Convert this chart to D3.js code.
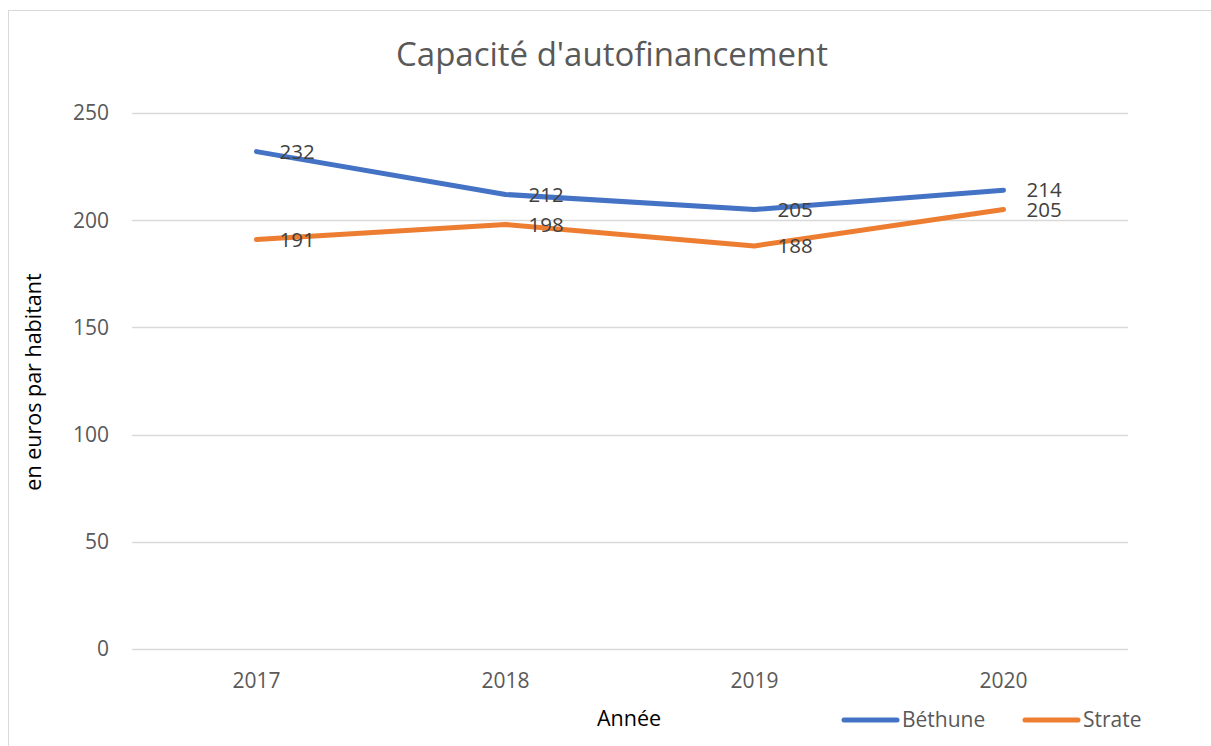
<!DOCTYPE html>
<html>
<head>
<meta charset="utf-8">
<script src="https://cdn.jsdelivr.net/npm/d3@7"></script>
<style>
  html, body { margin: 0; padding: 0; background: #fff; }
  svg { display: block; font-family: "Open Sans", "Noto Sans", sans-serif; }
</style>
</head>
<body>
<div id="chart"></div>
<script>
const years = ["2017", "2018", "2019", "2020"];
const bethune = [232, 212, 205, 214];
const strate = [191, 198, 188, 205];
const yTicks = [0, 50, 100, 150, 200, 250];

const series = [
  {name: "Béthune", values: bethune, color: "#4472C4"},
  {name: "Strate", values: strate, color: "#ED7D31"}
];

const width = 1211, height = 746;
const plot = {left: 132, right: 1128, top: 113, bottom: 649};

const svg = d3.select("#chart").append("svg")
    .attr("width", width)
    .attr("height", height);

// chart frame
svg.append("rect")
    .attr("x", 8.5).attr("y", 10.5)
    .attr("width", 1203).attr("height", 760)
    .attr("fill", "#fff")
    .attr("stroke", "#d9d9d9")
    .attr("stroke-width", 1);

const x = d3.scalePoint()
    .domain(years)
    .range([plot.left, plot.right])
    .padding(0.5);

const y = d3.scaleLinear()
    .domain([0, 250])
    .range([plot.bottom, plot.top]);

// gridlines
svg.append("g")
  .selectAll("line")
  .data(yTicks)
  .join("line")
    .attr("x1", plot.left)
    .attr("x2", plot.right)
    .attr("y1", d => Math.round(y(d)) + 0.5)
    .attr("y2", d => Math.round(y(d)) + 0.5)
    .attr("stroke", "#d9d9d9")
    .attr("stroke-width", 1.5);

// y tick labels
svg.append("g")
  .selectAll("text")
  .data(yTicks)
  .join("text")
    .attr("x", 109)
    .attr("y", d => y(d))
    .attr("dy", "0.35em")
    .attr("text-anchor", "end")
    .attr("fill", "#595959")
    .style("font-size", "21px")
    .text(d => d);

// x tick labels
svg.append("g")
  .selectAll("text")
  .data(years)
  .join("text")
    .attr("x", d => x(d))
    .attr("y", 681)
    .attr("dy", "0.35em")
    .attr("text-anchor", "middle")
    .attr("fill", "#595959")
    .style("font-size", "21px")
    .text(d => d);

// title
svg.append("text")
    .attr("x", 612)
    .attr("y", 54)
    .attr("dy", "0.35em")
    .attr("text-anchor", "middle")
    .attr("fill", "#595959")
    .style("font-size", "33px")
    .text("Capacité d'autofinancement");

// axis titles
svg.append("text")
    .attr("transform", "translate(33,382) rotate(-90)")
    .attr("dy", "0.35em")
    .attr("text-anchor", "middle")
    .attr("fill", "#000")
    .style("font-size", "21.5px")
    .text("en euros par habitant");

svg.append("text")
    .attr("x", 629)
    .attr("y", 718)
    .attr("dy", "0.35em")
    .attr("text-anchor", "middle")
    .attr("fill", "#000")
    .style("font-size", "21.5px")
    .text("Année");

// lines
const line = d3.line()
    .x((d, i) => x(years[i]))
    .y(d => y(d));

svg.append("g")
  .selectAll("path")
  .data(series)
  .join("path")
    .attr("d", d => line(d.values))
    .attr("fill", "none")
    .attr("stroke", d => d.color)
    .attr("stroke-width", 5)
    .attr("stroke-linecap", "round")
    .attr("stroke-linejoin", "round");

// data labels, right of each point
series.forEach(s => {
  svg.append("g")
    .selectAll("text")
    .data(s.values)
    .join("text")
      .attr("x", (d, i) => x(years[i]) + 23)
      .attr("y", d => y(d))
      .attr("dy", "0.35em")
      .attr("fill", "#404040")
      .style("font-size", "20.5px")
      .text(d => d);
});

// legend
const legend = svg.append("g")
  .selectAll("g")
  .data(series)
  .join("g")
    .attr("transform", (d, i) => `translate(${[844, 1025][i]},720)`);

legend.append("line")
    .attr("x1", 0).attr("x2", 53)
    .attr("stroke", d => d.color)
    .attr("stroke-width", 5)
    .attr("stroke-linecap", "round");

legend.append("text")
    .attr("x", 58)
    .attr("dy", "0.35em")
    .attr("fill", "#595959")
    .style("font-size", "21px")
    .text(d => d.name);
</script>
</body>
</html>
